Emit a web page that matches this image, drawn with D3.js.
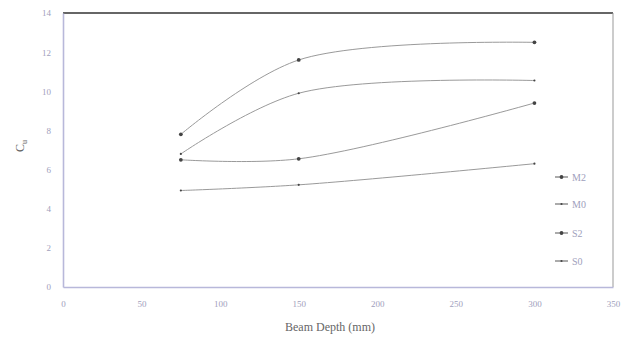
<!DOCTYPE html>
<html><head><meta charset="utf-8">
<script src="https://cdn.jsdelivr.net/npm/d3@7"></script>
<style>body{margin:0;background:#fff}svg{display:block}</style>
</head><body>
<svg id="c" width="630" height="346"></svg>
<script>
const depths = [75, 150, 300];
const M2 = [7.8, 11.6, 12.5];
const M0 = [6.8, 9.9, 10.55];
const S2 = [6.5, 6.55, 9.4];
const S0 = [4.93, 5.22, 6.3];
const seriesNames = ["M2", "M0", "S2", "S0"];
const xTicks = [0, 50, 100, 150, 200, 250, 300, 350];
const yTicks = [0, 2, 4, 6, 8, 10, 12, 14];

const series = [
  {name: "M2", values: M2, r: 1.9},
  {name: "M0", values: M0, r: 1.1},
  {name: "S2", values: S2, r: 1.9},
  {name: "S0", values: S0, r: 1.1}
];

const svg = d3.select("#c");
const L = 63, R = 613, T = 13, B = 287;
const x = d3.scaleLinear().domain([0, 350]).range([L, R]);
const y = d3.scaleLinear().domain([0, 14]).range([B, T]);
const font = "Liberation Serif, DejaVu Serif, serif";

svg.append("line").attr("x1", L).attr("x2", R).attr("y1", T).attr("y2", T)
  .attr("stroke", "#333").attr("stroke-width", 1.6);
svg.append("line").attr("x1", R).attr("x2", R).attr("y1", T).attr("y2", B)
  .attr("stroke", "#999").attr("stroke-width", 1);

const xAxis = svg.append("g").attr("transform", `translate(0,${B})`)
  .call(d3.axisBottom(x).tickValues(xTicks).tickSize(0).tickPadding(14));
const yAxis = svg.append("g").attr("transform", `translate(${L},0)`)
  .call(d3.axisLeft(y).tickValues(yTicks).tickSize(0).tickPadding(12));
[xAxis, yAxis].forEach(g => {
  g.select(".domain").attr("stroke", "#b8b8da").attr("stroke-width", 1.6);
  g.selectAll("text").attr("fill", "#a0a0bc").attr("font-family", font).attr("font-size", 9);
});

svg.append("text").attr("x", 330).attr("y", 331).attr("text-anchor", "middle")
  .attr("font-family", font).attr("font-size", 12).attr("fill", "#666")
  .text("Beam Depth (mm)");
const yl = svg.append("text").attr("transform", "translate(24,146) rotate(-90)")
  .attr("text-anchor", "middle").attr("font-family", font).attr("font-size", 12).attr("fill", "#666");
yl.append("tspan").text("C");
yl.append("tspan").attr("font-size", 8).attr("dy", 3).text("u");

const line = d3.line().x(d => x(d[0])).y(d => y(d[1])).curve(d3.curveCatmullRom.alpha(0.5));
series.forEach(s => {
  const pts = depths.map((d, i) => [d, s.values[i]]);
  svg.append("path").datum(pts).attr("d", line)
    .attr("fill", "none").attr("stroke", "#9a9a9a").attr("stroke-width", 1);
  svg.selectAll(null).data(pts).enter().append("circle")
    .attr("cx", d => x(d[0])).attr("cy", d => y(d[1])).attr("r", s.r)
    .attr("fill", "#444");
});

const legY = [177, 204, 233, 261];
series.forEach((s, i) => {
  const g = svg.append("g").attr("transform", `translate(555,${legY[i]})`);
  g.append("line").attr("x1", 0).attr("x2", 13).attr("stroke", "#666").attr("stroke-width", 1.1);
  g.append("circle").attr("cx", 6.5).attr("r", s.r).attr("fill", "#444");
  g.append("text").attr("x", 17).attr("y", 4).attr("font-family", font).attr("font-size", 10)
    .attr("fill", "#a0a0bc").text(seriesNames[i]);
});
</script>
</body></html>
